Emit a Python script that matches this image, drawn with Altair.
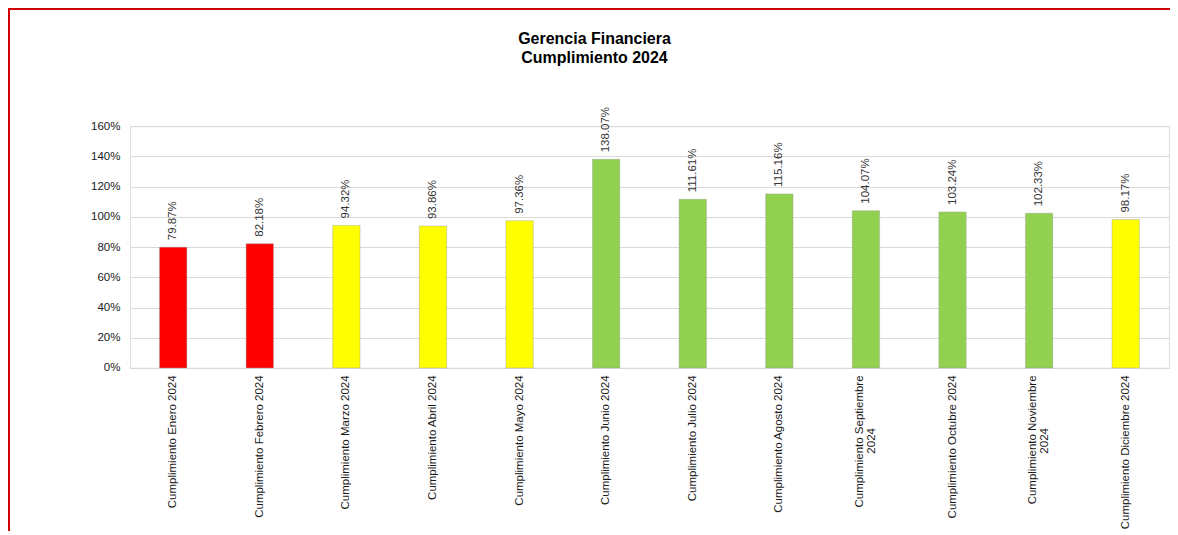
import altair as alt
import pandas as pd

meses = [
    "Cumplimiento Enero 2024",
    "Cumplimiento Febrero 2024",
    "Cumplimiento Marzo 2024",
    "Cumplimiento Abril 2024",
    "Cumplimiento Mayo 2024",
    "Cumplimiento Junio 2024",
    "Cumplimiento Julio 2024",
    "Cumplimiento Agosto 2024",
    "Cumplimiento Septiembre\n2024",
    "Cumplimiento Octubre 2024",
    "Cumplimiento Noviembre\n2024",
    "Cumplimiento Diciembre 2024",
]
valores = [0.7987, 0.8218, 0.9432, 0.9386, 0.9736, 1.3807,
           1.1161, 1.1516, 1.0407, 1.0324, 1.0233, 0.9817]
estado = ["Bajo", "Bajo", "Medio", "Medio", "Medio", "Alto",
          "Alto", "Alto", "Alto", "Alto", "Alto", "Medio"]
y_ticks = [0, 0.2, 0.4, 0.6, 0.8, 1.0, 1.2, 1.4, 1.6]

df = pd.DataFrame({"mes": meses, "valor": valores, "estado": estado})

FONT = "Liberation Sans"
HAS2 = "indexof(datum.label, '\\n') >= 0"

x_axis = alt.Axis(
    title=None, labelAngle=270,
    labelExpr="split(datum.label, '\\n')[0]",
    labelOffset=alt.condition(HAS2, alt.value(-6), alt.value(0)),
    labelFontSize=11.5, labelFont=FONT, labelColor="#1a1a1a",
    labelPadding=7, ticks=False, domainColor="#D9D9D9", labelLimit=0,
)
x_enc = alt.X(
    "mes:N", sort=meses,
    scale=alt.Scale(paddingInner=0.684, paddingOuter=0.342),
    axis=x_axis,
)
y_enc = alt.Y(
    "valor:Q",
    scale=alt.Scale(domain=[0, 1.6], nice=False),
    axis=alt.Axis(
        title=None, values=y_ticks, format=".0%", domain=False, ticks=False,
        gridColor="#D9D9D9", labelFontSize=11.5, labelFont=FONT,
        labelColor="#1a1a1a", labelPadding=10, labelOverlap=False,
    ),
)

base = alt.Chart(df)

bars = base.mark_bar(stroke="#9a9a9a", strokeWidth=0.4).encode(
    x=x_enc,
    y=y_enc,
    color=alt.Color(
        "estado:N",
        scale=alt.Scale(domain=["Bajo", "Medio", "Alto"],
                        range=["#FF0000", "#FFFF00", "#92D050"]),
        legend=None,
    ),
)

text = base.mark_text(
    angle=270, align="left", baseline="middle", dx=7,
    fontSize=11.5, font=FONT, color="#333333",
).encode(
    x=x_enc,
    y=y_enc,
    text=alt.Text("valor:Q", format=".2%"),
)

# second line of the two-line axis labels
label2 = base.transform_filter(
    "indexof(datum.mes, '\\n') >= 0"
).transform_calculate(
    linea2="split(datum.mes, '\\n')[1]"
).mark_text(
    angle=270, align="center", baseline="middle", dy=6,
    fontSize=11.5, font=FONT, color="#1a1a1a",
).encode(
    x=x_enc,
    y=alt.value(315),
    text="linea2:N",
)

frame_left = alt.Chart(df).mark_rule(color="#D00000", strokeWidth=2).encode(
    x=alt.value(-121), y=alt.value(-118), y2=alt.value(440)
)
frame_top = alt.Chart(df).mark_rule(color="#D00000", strokeWidth=2).encode(
    x=alt.value(-121), x2=alt.value(1060), y=alt.value(-118)
)

chart = alt.layer(frame_left, frame_top, bars, text, label2).properties(
    width=1040,
    height=242,
    padding={"left": 122, "top": 118, "right": 1, "bottom": 163},
    autosize=alt.AutoSizeParams(type="none"),
    title=alt.TitleParams(
        ["Gerencia Financiera", "Cumplimiento 2024"],
        fontSize=16, fontWeight="bold", font=FONT, color="#000000",
        lineHeight=19, anchor="middle", frame="group", dx=-55, offset=-59,
    ),
).configure_view(stroke=None).configure(background="white")

chart.save("out.html", embed_options={"renderer": "svg", "actions": False})
